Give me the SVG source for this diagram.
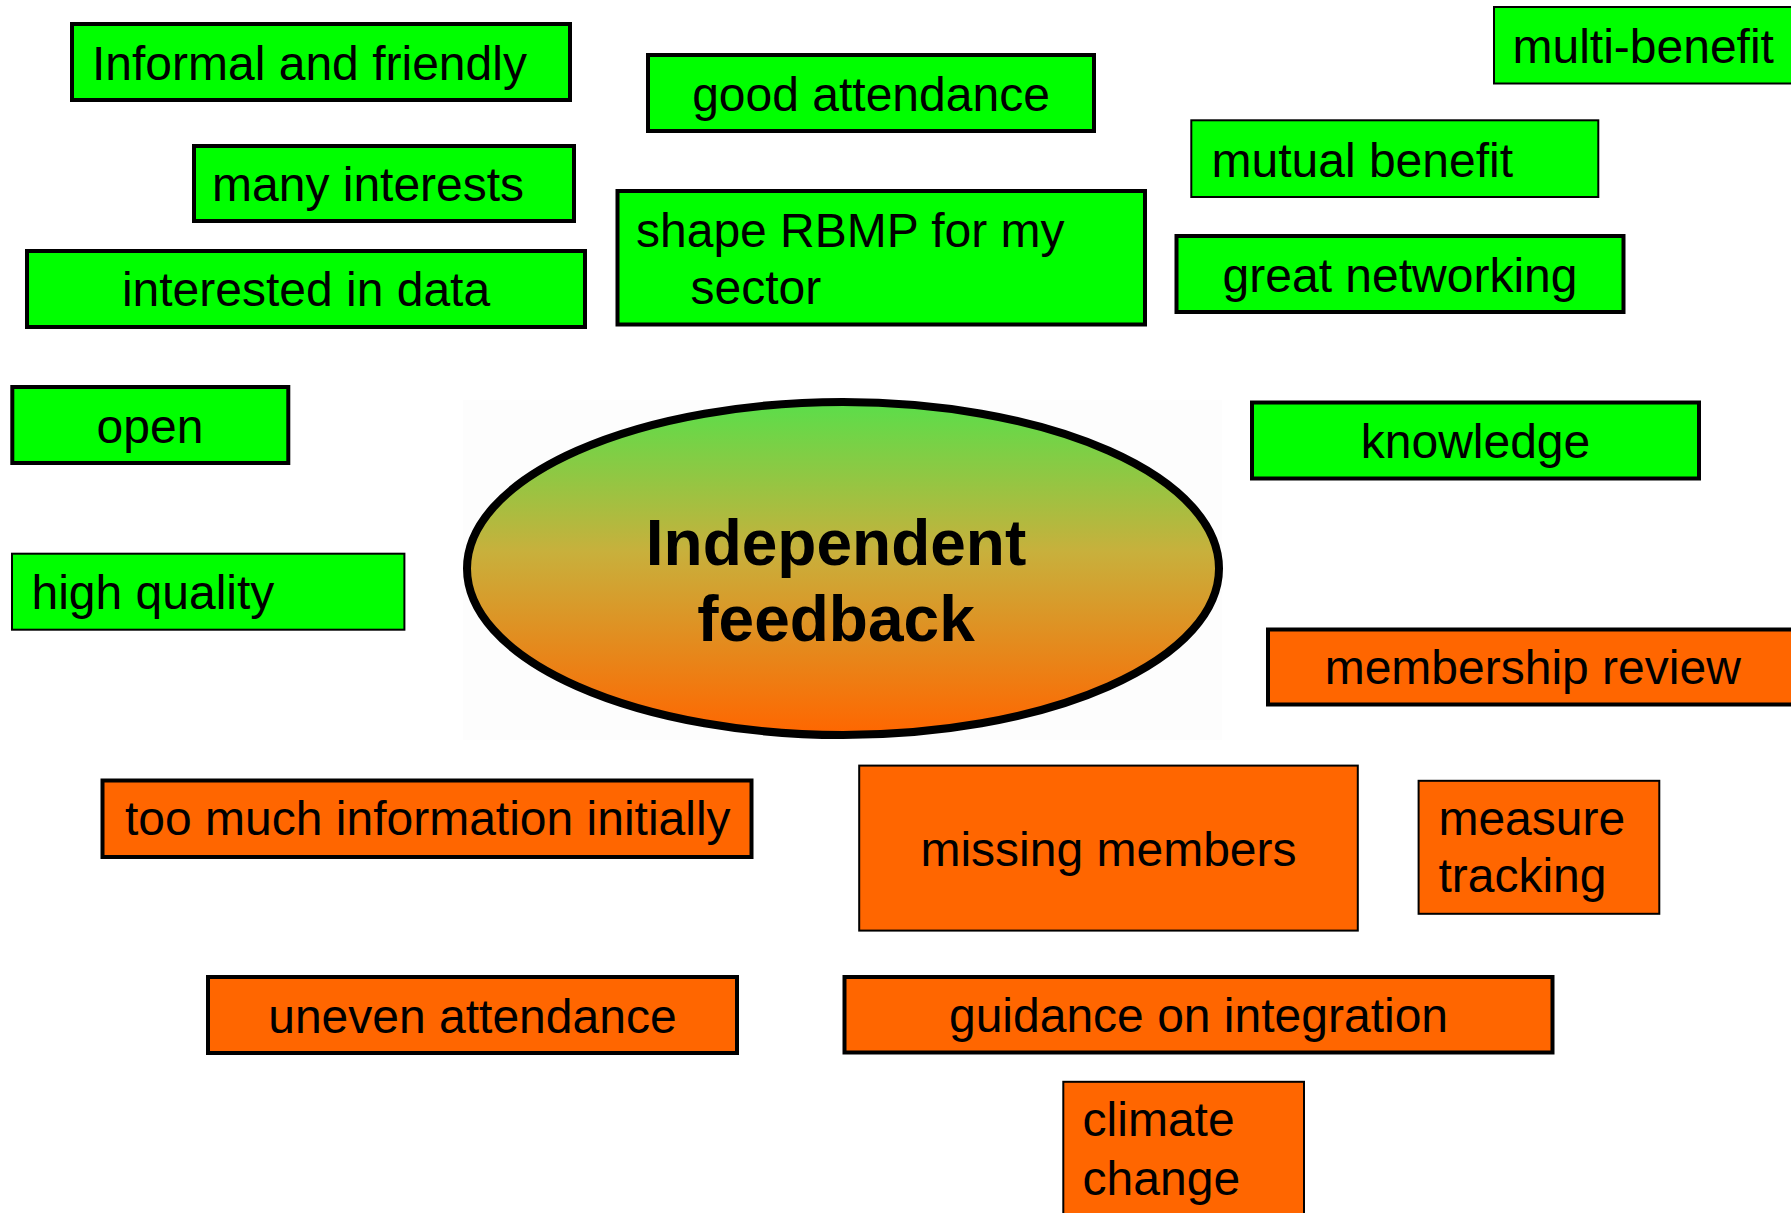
<svg xmlns="http://www.w3.org/2000/svg" width="1791" height="1213" viewBox="0 0 1791 1213">
<style>
  .g { fill: #00ff00; stroke: #000000; }
  .o { fill: #ff6600; stroke: #000000; }
  .thick { stroke-width: 4; }
  .thin { stroke-width: 2; }
  text { font-family: "Liberation Sans", Arial, sans-serif; font-size: 48px; fill: #000000; }
  .c { text-anchor: middle; }
  .hub { font-size: 64px; font-weight: bold; text-anchor: middle; }
</style>
<defs>
  <linearGradient id="hubGrad" x1="0" y1="0" x2="0" y2="1">
    <stop offset="0" stop-color="#5ade4a"/>
    <stop offset="0.45" stop-color="#c8b03c"/>
    <stop offset="1" stop-color="#ff6600"/>
  </linearGradient>
</defs>
<rect x="0" y="0" width="1791" height="1213" fill="#ffffff"/>
<g id="connectors"></g>

<g id="hub">
  <rect x="463" y="400" width="759" height="340" fill="#fdfdfd"/>
  <ellipse cx="843" cy="568.5" rx="376" ry="166.5" fill="url(#hubGrad)" stroke="#000000" stroke-width="8"/>
  <text class="hub" x="836" y="564.5">Independent</text>
  <text class="hub" x="836" y="640.5">feedback</text>
</g>

<g id="informal-and-friendly">
  <rect class="g thick" x="72" y="24" width="498" height="76"/>
  <text x="92" y="80">Informal and friendly</text>
</g>
<g id="good-attendance">
  <rect class="g thick" x="648" y="55" width="446" height="76"/>
  <text class="c" x="871" y="110.5">good attendance</text>
</g>
<g id="many-interests">
  <rect class="g thick" x="194" y="146" width="380" height="75"/>
  <text x="212" y="200.5">many interests</text>
</g>
<g id="interested-in-data">
  <rect class="g thick" x="27" y="251" width="558" height="76"/>
  <text class="c" x="306" y="306">interested in data</text>
</g>
<g id="shape-rbmp">
  <rect class="g thick" x="617.5" y="191" width="527.5" height="133.5"/>
  <text x="636" y="247">shape RBMP for my</text>
  <text x="690.5" y="304">sector</text>
</g>
<g id="multi-benefit">
  <rect class="g thin" x="1494" y="7" width="400" height="76.5"/>
  <text x="1512.5" y="62.5">multi-benefit</text>
</g>
<g id="mutual-benefit">
  <rect class="g thin" x="1191.3" y="120.3" width="407" height="76.7"/>
  <text x="1211.5" y="176.5">mutual benefit</text>
</g>
<g id="great-networking">
  <rect class="g thick" x="1176.5" y="236" width="447" height="76"/>
  <text class="c" x="1400" y="291.5">great networking</text>
</g>
<g id="knowledge">
  <rect class="g thick" x="1252" y="402.5" width="447" height="76"/>
  <text class="c" x="1475.5" y="457.5">knowledge</text>
</g>
<g id="open">
  <rect class="g thick" x="12.3" y="387" width="276" height="76"/>
  <text class="c" x="150" y="442.5">open</text>
</g>
<g id="high-quality">
  <rect class="g thin" x="12" y="553.7" width="392.4" height="76"/>
  <text x="31.5" y="609.3">high quality</text>
</g>

<g id="membership-review">
  <rect class="o thick" x="1268" y="629.5" width="600" height="75"/>
  <text x="1324.7" y="684">membership review</text>
</g>
<g id="too-much-information">
  <rect class="o thick" x="102.5" y="780.5" width="649" height="76.5"/>
  <text x="125" y="835">too much information initially</text>
</g>
<g id="missing-members">
  <rect class="o thin" x="859.2" y="765.6" width="498.6" height="165"/>
  <text class="c" x="1108.5" y="866">missing members</text>
</g>
<g id="measure-tracking">
  <rect class="o thin" x="1418.6" y="780.8" width="240.7" height="133"/>
  <text x="1438.4" y="835.3">measure</text>
  <text x="1438.4" y="892.4">tracking</text>
</g>
<g id="uneven-attendance">
  <rect class="o thick" x="208" y="977" width="529" height="76"/>
  <text class="c" x="472.4" y="1032.7">uneven attendance</text>
</g>
<g id="guidance-on-integration">
  <rect class="o thick" x="844.5" y="977" width="708" height="75.5"/>
  <text class="c" x="1198.5" y="1032">guidance on integration</text>
</g>
<g id="climate-change">
  <rect class="o thin" x="1063.3" y="1081.8" width="240.7" height="200"/>
  <text x="1082.6" y="1136.4">climate</text>
  <text x="1082.6" y="1194.5">change</text>
</g>
</svg>
